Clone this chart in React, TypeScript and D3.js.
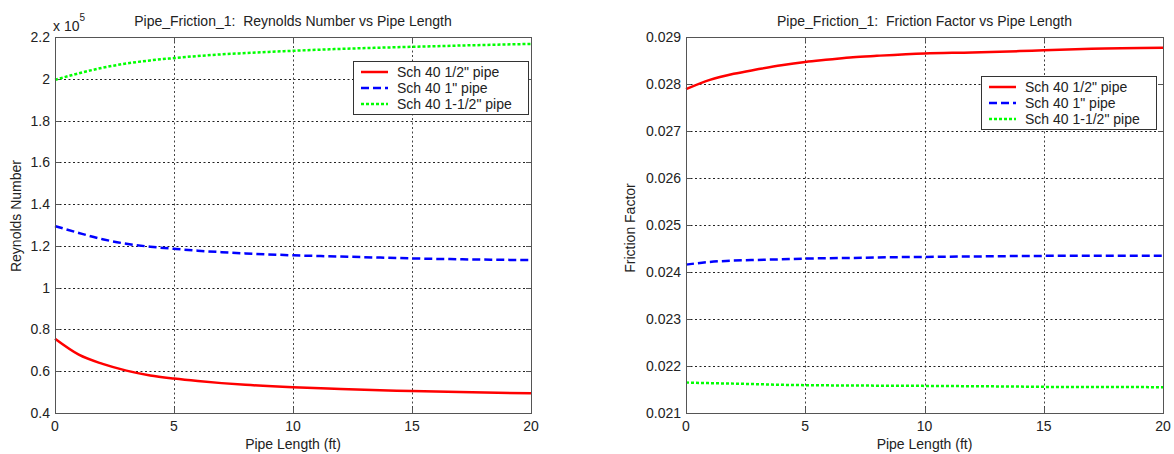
import React from 'react';
import * as d3 from 'd3';

// pipe length (ft) where values were read
const lengths = [0, 1, 2, 3, 4, 5, 6, 7, 8, 10, 12, 14, 15, 17, 20];

// Reynolds number, in units of 1e5
const reHalf = [0.755, 0.679, 0.635, 0.603, 0.58, 0.565, 0.553, 0.543, 0.535, 0.523, 0.515, 0.508, 0.505, 0.5, 0.494];
const reOne = [1.295, 1.262, 1.232, 1.21, 1.196, 1.186, 1.177, 1.17, 1.164, 1.155, 1.149, 1.143, 1.14, 1.136, 1.132];
const reOneHalf = [1.995, 2.026, 2.053, 2.073, 2.088, 2.099, 2.109, 2.117, 2.123, 2.134, 2.143, 2.15, 2.153, 2.159, 2.167];

// friction factor
const fHalf = [0.02789, 0.028087, 0.028217, 0.028312, 0.0284, 0.02847, 0.02852, 0.02857, 0.0286, 0.02865, 0.02867, 0.0287, 0.02872, 0.02875, 0.02877];
const fOne = [0.024157, 0.024214, 0.024243, 0.024257, 0.02427, 0.024286, 0.024293, 0.0243, 0.02431, 0.024321, 0.02433, 0.02434, 0.024343, 0.024345, 0.024345];
const fOneHalf = [0.021648, 0.021635, 0.021625, 0.021613, 0.0216, 0.021592, 0.021588, 0.021585, 0.021582, 0.021577, 0.02157, 0.021562, 0.021556, 0.021553, 0.02155];

const seriesNames = ['Sch 40 1/2" pipe', 'Sch 40 1" pipe', 'Sch 40 1-1/2" pipe'];
const xTicks = [0, 5, 10, 15, 20];
const reTicks = [0.4, 0.6, 0.8, 1, 1.2, 1.4, 1.6, 1.8, 2, 2.2];
const fTicks = [0.021, 0.022, 0.023, 0.024, 0.025, 0.026, 0.027, 0.028, 0.029];

const styles = [
  { color: '#ff0000', dash: null },
  { color: '#0000ff', dash: '8,4' },
  { color: '#00ff00', dash: '3,2' },
];

const FONT = '"Liberation Sans", Arial, sans-serif';
const TEXT = '#222';
const FS = 14;
const TOP = 37;
const BOTTOM = 413;

type PlotProps = {
  left: number;
  right: number;
  title: string;
  yLabel: string;
  yLabelX: number;
  yLabelY: number;
  yTicks: number[];
  series: number[][];
  legend: { x: number; y: number };
  exponent?: boolean;
};

const Plot = ({ left, right, title, yLabel, yLabelX, yLabelY, yTicks, series, legend, exponent }: PlotProps) => {
  const x = d3.scaleLinear().domain([0, 20]).range([left, right]);
  const y = d3
    .scaleLinear()
    .domain([yTicks[0], yTicks[yTicks.length - 1]])
    .range([BOTTOM, TOP]);

  const line = d3
    .line<number>()
    .x((_, i) => x(lengths[i]))
    .y(d => y(d))
    .curve(d3.curveMonotoneX);

  const px = (v: number) => Math.round(v) + 0.5;

  return (
    <g fontFamily={FONT}>
      {/* grid */}
      {xTicks.slice(1, -1).map(t => (
        <line key={'gx' + t} x1={px(x(t))} x2={px(x(t))} y1={TOP} y2={BOTTOM}
          stroke="#444" strokeDasharray="2,2.5" />
      ))}
      {yTicks.slice(1, -1).map(t => (
        <line key={'gy' + t} x1={left} x2={right} y1={px(y(t))} y2={px(y(t))}
          stroke="#222" strokeDasharray="2,2.5" />
      ))}

      {/* ticks inside the box */}
      {xTicks.map(t => (
        <g key={'tx' + t} stroke="#555">
          <line x1={px(x(t))} x2={px(x(t))} y1={BOTTOM} y2={BOTTOM - 5} />
          <line x1={px(x(t))} x2={px(x(t))} y1={TOP} y2={TOP + 5} />
        </g>
      ))}
      {yTicks.map(t => (
        <g key={'ty' + t} stroke="#555">
          <line x1={left} x2={left + 5} y1={px(y(t))} y2={px(y(t))} />
          <line x1={right - 5} x2={right} y1={px(y(t))} y2={px(y(t))} />
        </g>
      ))}

      {/* data */}
      {series.map((s, i) => (
        <path key={'s' + i} d={line(s) || ''} fill="none" stroke={styles[i].color}
          strokeWidth={2.5} strokeDasharray={styles[i].dash || undefined} />
      ))}

      {/* box */}
      <rect x={px(left)} y={px(TOP)} width={Math.round(right - left)} height={Math.round(BOTTOM - TOP)}
        fill="none" stroke="#555" />

      {/* tick labels */}
      {xTicks.map(t => (
        <text key={'lx' + t} x={x(t)} y={BOTTOM + 18} textAnchor="middle" fontSize={FS} fill={TEXT}>
          {t}
        </text>
      ))}
      {yTicks.map(t => (
        <text key={'ly' + t} x={left - 5} y={y(t) + 5} textAnchor="end" fontSize={FS} fill={TEXT}>
          {d3.format('~g')(+t.toFixed(4))}
        </text>
      ))}

      {exponent && (
        <text x={left - 2} y={31} fontSize={FS} fill={TEXT}>
          x 10<tspan dy={-10} fontSize={10}>5</tspan>
        </text>
      )}

      <text x={(left + right) / 2} y={26} textAnchor="middle" fontSize={FS} fill={TEXT}
        style={{ whiteSpace: 'pre' }}>
        {title}
      </text>
      <text x={(left + right) / 2} y={449} textAnchor="middle" fontSize={FS} fill={TEXT}>
        Pipe Length (ft)
      </text>
      <text transform={`translate(${yLabelX},${yLabelY}) rotate(-90)`} textAnchor="middle"
        fontSize={FS} fill={TEXT}>
        {yLabel}
      </text>

      {/* legend */}
      <g transform={`translate(${legend.x},${legend.y})`}>
        <rect x={0.5} y={0.5} width={175} height={53} fill="#fff" stroke="#333" />
        {seriesNames.map((n, i) => (
          <g key={n} transform={`translate(0,${11 + i * 16})`}>
            <line x1={8} x2={35} y1={0} y2={0} stroke={styles[i].color} strokeWidth={2.5}
              strokeDasharray={styles[i].dash || undefined} />
            <text x={44} y={5} fontSize={FS} fill={TEXT}>{n}</text>
          </g>
        ))}
      </g>
    </g>
  );
};

export default function App() {
  return (
    <svg width={1174} height={454} style={{ position: 'absolute', left: 0, top: 0, background: '#fff' }}>
      <Plot
        left={55}
        right={531}
        title="Pipe_Friction_1:  Reynolds Number vs Pipe Length"
        yLabel="Reynolds Number"
        yLabelX={21}
        yLabelY={216}
        yTicks={reTicks}
        series={[reHalf, reOne, reOneHalf]}
        legend={{ x: 353, y: 61 }}
        exponent
      />
      <Plot
        left={686}
        right={1163}
        title="Pipe_Friction_1:  Friction Factor vs Pipe Length"
        yLabel="Friction Factor"
        yLabelX={635}
        yLabelY={228}
        yTicks={fTicks}
        series={[fHalf, fOne, fOneHalf]}
        legend={{ x: 981, y: 76 }}
      />
    </svg>
  );
}
